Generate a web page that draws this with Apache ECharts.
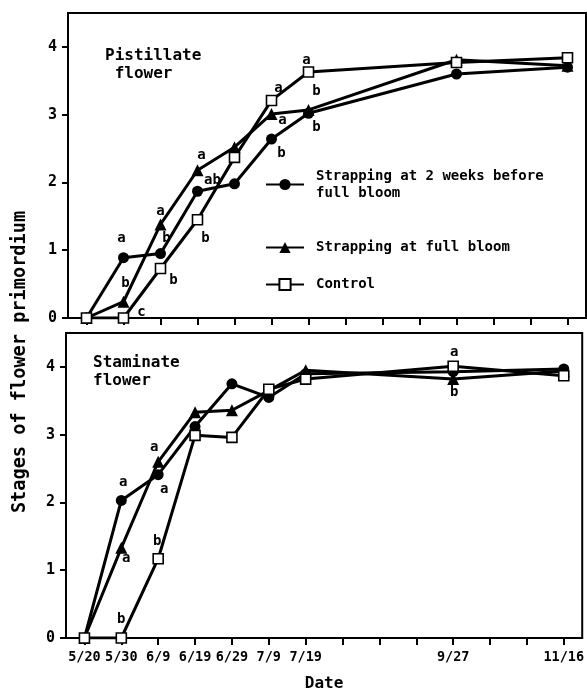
<!DOCTYPE html>
<html><head><meta charset="utf-8">
<script src="https://cdn.jsdelivr.net/npm/echarts@6/dist/echarts.min.js"></script>
<style>html,body{margin:0;padding:0;background:#fff}#c{width:587px;height:693px}</style>
</head><body><div id="c"></div>
<script>
// ---- axis categories (unequally spaced date slots) ----
const categories = ['5/20','5/30','6/9','6/19','6/29','7/9','7/19','','','','9/27','','','11/16'];
const sampleDates = ['5/20','5/30','6/9','6/19','6/29','7/9','7/19','9/27','11/16'];
const seriesNames = ['Strapping at 2 weeks before full bloom','Strapping at full bloom','Control'];
const legendLabels = ['Strapping at 2 weeks before\nfull bloom','Strapping at full bloom','Control'];
const yTicks = [0,1,2,3,4];

// ---- Pistillate flower ----
const pistEarly   = [0, 0.89, 0.95, 1.87, 1.98, 2.64, 3.02, 3.60, 3.70];
const pistFull    = [0, 0.24, 1.38, 2.18, 2.52, 3.01, 3.07, 3.81, 3.72];
const pistControl = [0, 0.00, 0.73, 1.45, 2.37, 3.21, 3.63, 3.77, 3.84];

// ---- Staminate flower ----
const stamEarly   = [0, 2.03, 2.41, 3.12, 3.75, 3.55, 3.90, 3.93, 3.97];
const stamFull    = [0, 1.33, 2.60, 3.33, 3.36, 3.65, 3.95, 3.82, 3.94];
const stamControl = [0, 0.00, 1.17, 2.99, 2.96, 3.67, 3.82, 4.01, 3.87];

// ---- significance letters: [date, value at letter, letter] ----
const pistLetters = [
  ['5/30',1.18,'a'],['5/30',0.51,'b'],['5/30',0.09,'c'],
  ['6/9',1.58,'a'],['6/9',1.17,'b'],['6/9',0.56,'b'],
  ['6/19',2.40,'a'],['6/19',2.03,'ab'],['6/19',1.17,'b'],
  ['7/9',3.39,'a'],['7/9',2.91,'a'],['7/9',2.43,'b'],
  ['7/19',3.80,'a'],['7/19',3.35,'b'],['7/19',2.81,'b']
];
const pistLetterDx = [-2,2,18, 0,6,13, 4,15,8, 7,11,10, -2,8,8];
const stamLetters = [
  ['5/30',2.30,'a'],['5/30',1.18,'a'],['5/30',0.27,'b'],
  ['6/9',2.81,'a'],['6/9',2.20,'a'],['6/9',1.43,'b'],
  ['9/27',4.22,'a'],['9/27',3.62,'b']
];
const stamLetterDx = [2,5,0, -4,6,-1, 1,1];

const FONT = 'DejaVu Sans Mono';
const panels = [
  {early: pistEarly, full: pistFull, control: pistControl, letters: pistLetters, dx: pistLetterDx},
  {early: stamEarly, full: stamFull, control: stamControl, letters: stamLetters, dx: stamLetterDx}
];
const zipDates = vals => sampleDates.map((d,i)=>[d, vals[i]]);

const symbolStyles = [
  {symbol:'circle', symbolSize:11, itemStyle:{color:'#000'}, z:3},
  {symbol:'triangle', symbolSize:12, itemStyle:{color:'#000'}, z:4},
  {symbol:'rect', symbolSize:10, itemStyle:{color:'#fff', borderColor:'#000', borderWidth:1.6}, z:5}
];

const series = [];
panels.forEach((p, pi) => {
  [p.early, p.full, p.control].forEach((vals, si) => {
    series.push(Object.assign({
      type:'line', name: seriesNames[si], xAxisIndex: pi, yAxisIndex: pi,
      data: zipDates(vals), showAllSymbol: true, connectNulls: true,
      lineStyle:{color:'#000', width:3}, emphasis:{disabled:true}
    }, symbolStyles[si]));
  });
  series.push({
    type:'scatter', xAxisIndex: pi, yAxisIndex: pi, symbolSize:0, silent:true, z:10,
    itemStyle:{color:'#000'},
    data: p.letters.map((l,i)=>({value:[l[0], l[1]], name:l[2], label:{offset:[p.dx[i],0]}})),
    label:{show:true, position:'inside', formatter: q=>q.name, color:'#000', opacity:1,
           textBorderWidth:0, fontFamily: FONT, fontSize:14, fontWeight:'bold'}
  });
});

const grids = [
  {left:68, right:1, top:13, height:305},
  {left:66, right:2, top:333, height:305}
];

const xAxes = grids.map((g, i) => ({
  type:'category', gridIndex:i, data: categories, boundaryGap:true,
  axisLine:{show:true, lineStyle:{color:'#000', width:2}},
  axisTick:{show:true, alignWithLabel:true, interval:0, length:7, lineStyle:{color:'#000', width:2}},
  axisLabel:{show: i===1, interval:0, margin:12, color:'#000', fontFamily:FONT, fontSize:13.5, fontWeight:'bold'},
  splitLine:{show:false},
  name: i===1 ? 'Date' : '', nameLocation:'middle', nameGap:38,
  nameTextStyle:{color:'#000', fontFamily:FONT, fontSize:16, fontWeight:'bold'}
}));

const yAxes = grids.map((g, i) => ({
  type:'value', gridIndex:i, min:0, max:4.5,
  axisLine:{show:true, lineStyle:{color:'#000', width:2}},
  axisTick:{show:true, length:6, customValues: yTicks, lineStyle:{color:'#000', width:2}},
  axisLabel:{customValues: yTicks, margin:11, color:'#000', fontFamily:FONT, fontSize:15, fontWeight:'bold'},
  splitLine:{show:false}
}));

const option = {
  animation:false,
  backgroundColor:'#fff',
  grid: grids.map(g => Object.assign({show:true, borderColor:'#000', borderWidth:2, backgroundColor:'transparent'}, g)),
  xAxis: xAxes,
  yAxis: yAxes,
  title: [
    {text:'Pistillate\n flower', left:105, top:47, padding:0,
     textStyle:{color:'#000', fontFamily:FONT, fontSize:16, fontWeight:'bold', lineHeight:18}},
    {text:'Staminate\nflower', left:93, top:354, padding:0,
     textStyle:{color:'#000', fontFamily:FONT, fontSize:16, fontWeight:'bold', lineHeight:18}}
  ],
  legend: {
    orient:'vertical', left:265, top:150, padding:0, itemGap:20,
    itemWidth:38, itemHeight:14, selectedMode:false,
    data: seriesNames.map((n, i) => ({name:n, textStyle:{padding: i===0 ? [26,0,9,7] : [0,0,0,7]}})),
    formatter: n => legendLabels[seriesNames.indexOf(n)],
    textStyle:{color:'#000', fontFamily:FONT, fontSize:14, fontWeight:'bold', lineHeight:17}
  },
  graphic: [{
    type:'text', x:20, y:362, rotation:Math.PI/2,
    style:{text:'Stages of flower primordium', fill:'#000', font:'bold 18.6px "DejaVu Sans Mono"',
           textAlign:'center', textVerticalAlign:'middle', align:'center', verticalAlign:'middle'}
  }],
  series: series
};

const chart = echarts.init(document.getElementById('c'), null, {renderer:'canvas'});
chart.setOption(option);
</script>
</body></html>
